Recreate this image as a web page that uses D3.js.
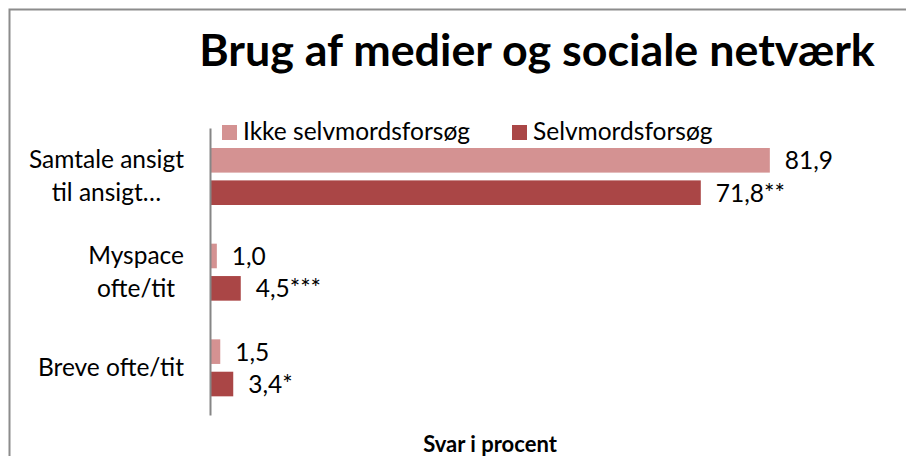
<!DOCTYPE html>
<html><head><meta charset="utf-8">
<script src="https://cdn.jsdelivr.net/npm/d3@7/dist/d3.min.js"></script>
<style>body{margin:0;background:#fff}svg{display:block}text{font-family:Lato,"Open Sans",sans-serif;fill:#000}</style>
</head><body><svg id="c" width="906" height="456"></svg>
<script>
const categories = [["Samtale ansigt","til ansigt…"],["Myspace","ofte/tit"],["Breve ofte/tit"]];
const seriesNames = ["Ikke selvmordsforsøg","Selvmordsforsøg"];
const ikkeValues = [81.9, 1.0, 1.5];
const selvValues = [71.8, 4.5, 3.4];
const ikkeLabels = ["81,9","1,0","1,5"];
const selvLabels = ["71,8**","4,5***","3,4*"];
const colors = ["#D49292","#AA4646"];
const title = "Brug af medier og sociale netværk";
const axisTitle = "Svar i procent";

const svg = d3.select("#c");
svg.append("rect").attr("x",9.5).attr("y",9.5).attr("width",1000).attr("height",1000)
  .attr("fill","none").attr("stroke","#8c8c8c").attr("stroke-width",2);

svg.append("text").attr("x",537).attr("y",66).attr("text-anchor","middle")
  .style("font-size","44.8px").style("font-weight","700").text(title);

const x = d3.scaleLinear().domain([0,90]).range([210,825.2]);
const y = d3.scaleBand().domain(d3.range(categories.length)).range([128,415]);
const inner = d3.scaleBand().domain([0,1]).range([20,77]).paddingInner(0.24);

const series = [ikkeValues, selvValues];
const labels = [ikkeLabels, selvLabels];
series.forEach((vals,s)=>{
  const g = svg.append("g");
  g.selectAll("rect").data(vals).join("rect")
    .attr("x",x(0)).attr("y",(d,i)=>y(i)+inner(s))
    .attr("width",d=>x(d)-x(0)).attr("height",inner.bandwidth())
    .attr("fill",colors[s]);
  g.selectAll("text").data(vals).join("text")
    .attr("x",d=>x(d)+15).attr("y",(d,i)=>y(i)+inner(s)+inner.bandwidth()/2+9)
    .style("font-size","24.5px").text((d,i)=>labels[s][i]);
});

// axis line
svg.append("g").attr("transform",`translate(${x(0)},0)`)
  .call(d3.axisLeft(y).tickSize(0).tickFormat(""))
  .call(g=>g.select(".domain").attr("stroke","#868686").attr("stroke-width",2));

// category labels
categories.forEach((lines,i)=>{
  const cy = y(i)+y.bandwidth()/2;
  const g = svg.append("g");
  const ts = lines.map((l,k)=>g.append("text").style("font-size","24.5px")
    .attr("text-anchor","middle").attr("y",cy+8.6+(k-(lines.length-1)/2)*33).text(l));
  const w = d3.max(ts,t=>t.node().getComputedTextLength());
  ts.forEach(t=>t.attr("x",184-w/2));
});

// legend
const lx = [222,512];
seriesNames.forEach((n,s)=>{
  svg.append("rect").attr("x",lx[s]).attr("y",125).attr("width",15).attr("height",15).attr("fill",colors[s]);
  svg.append("text").attr("x",lx[s]+21).attr("y",140).style("font-size","24.5px").text(n);
});

svg.append("text").attr("x",490).attr("y",452).attr("text-anchor","middle")
  .style("font-size","22px").style("font-weight","700").text(axisTitle);
</script></body></html>
